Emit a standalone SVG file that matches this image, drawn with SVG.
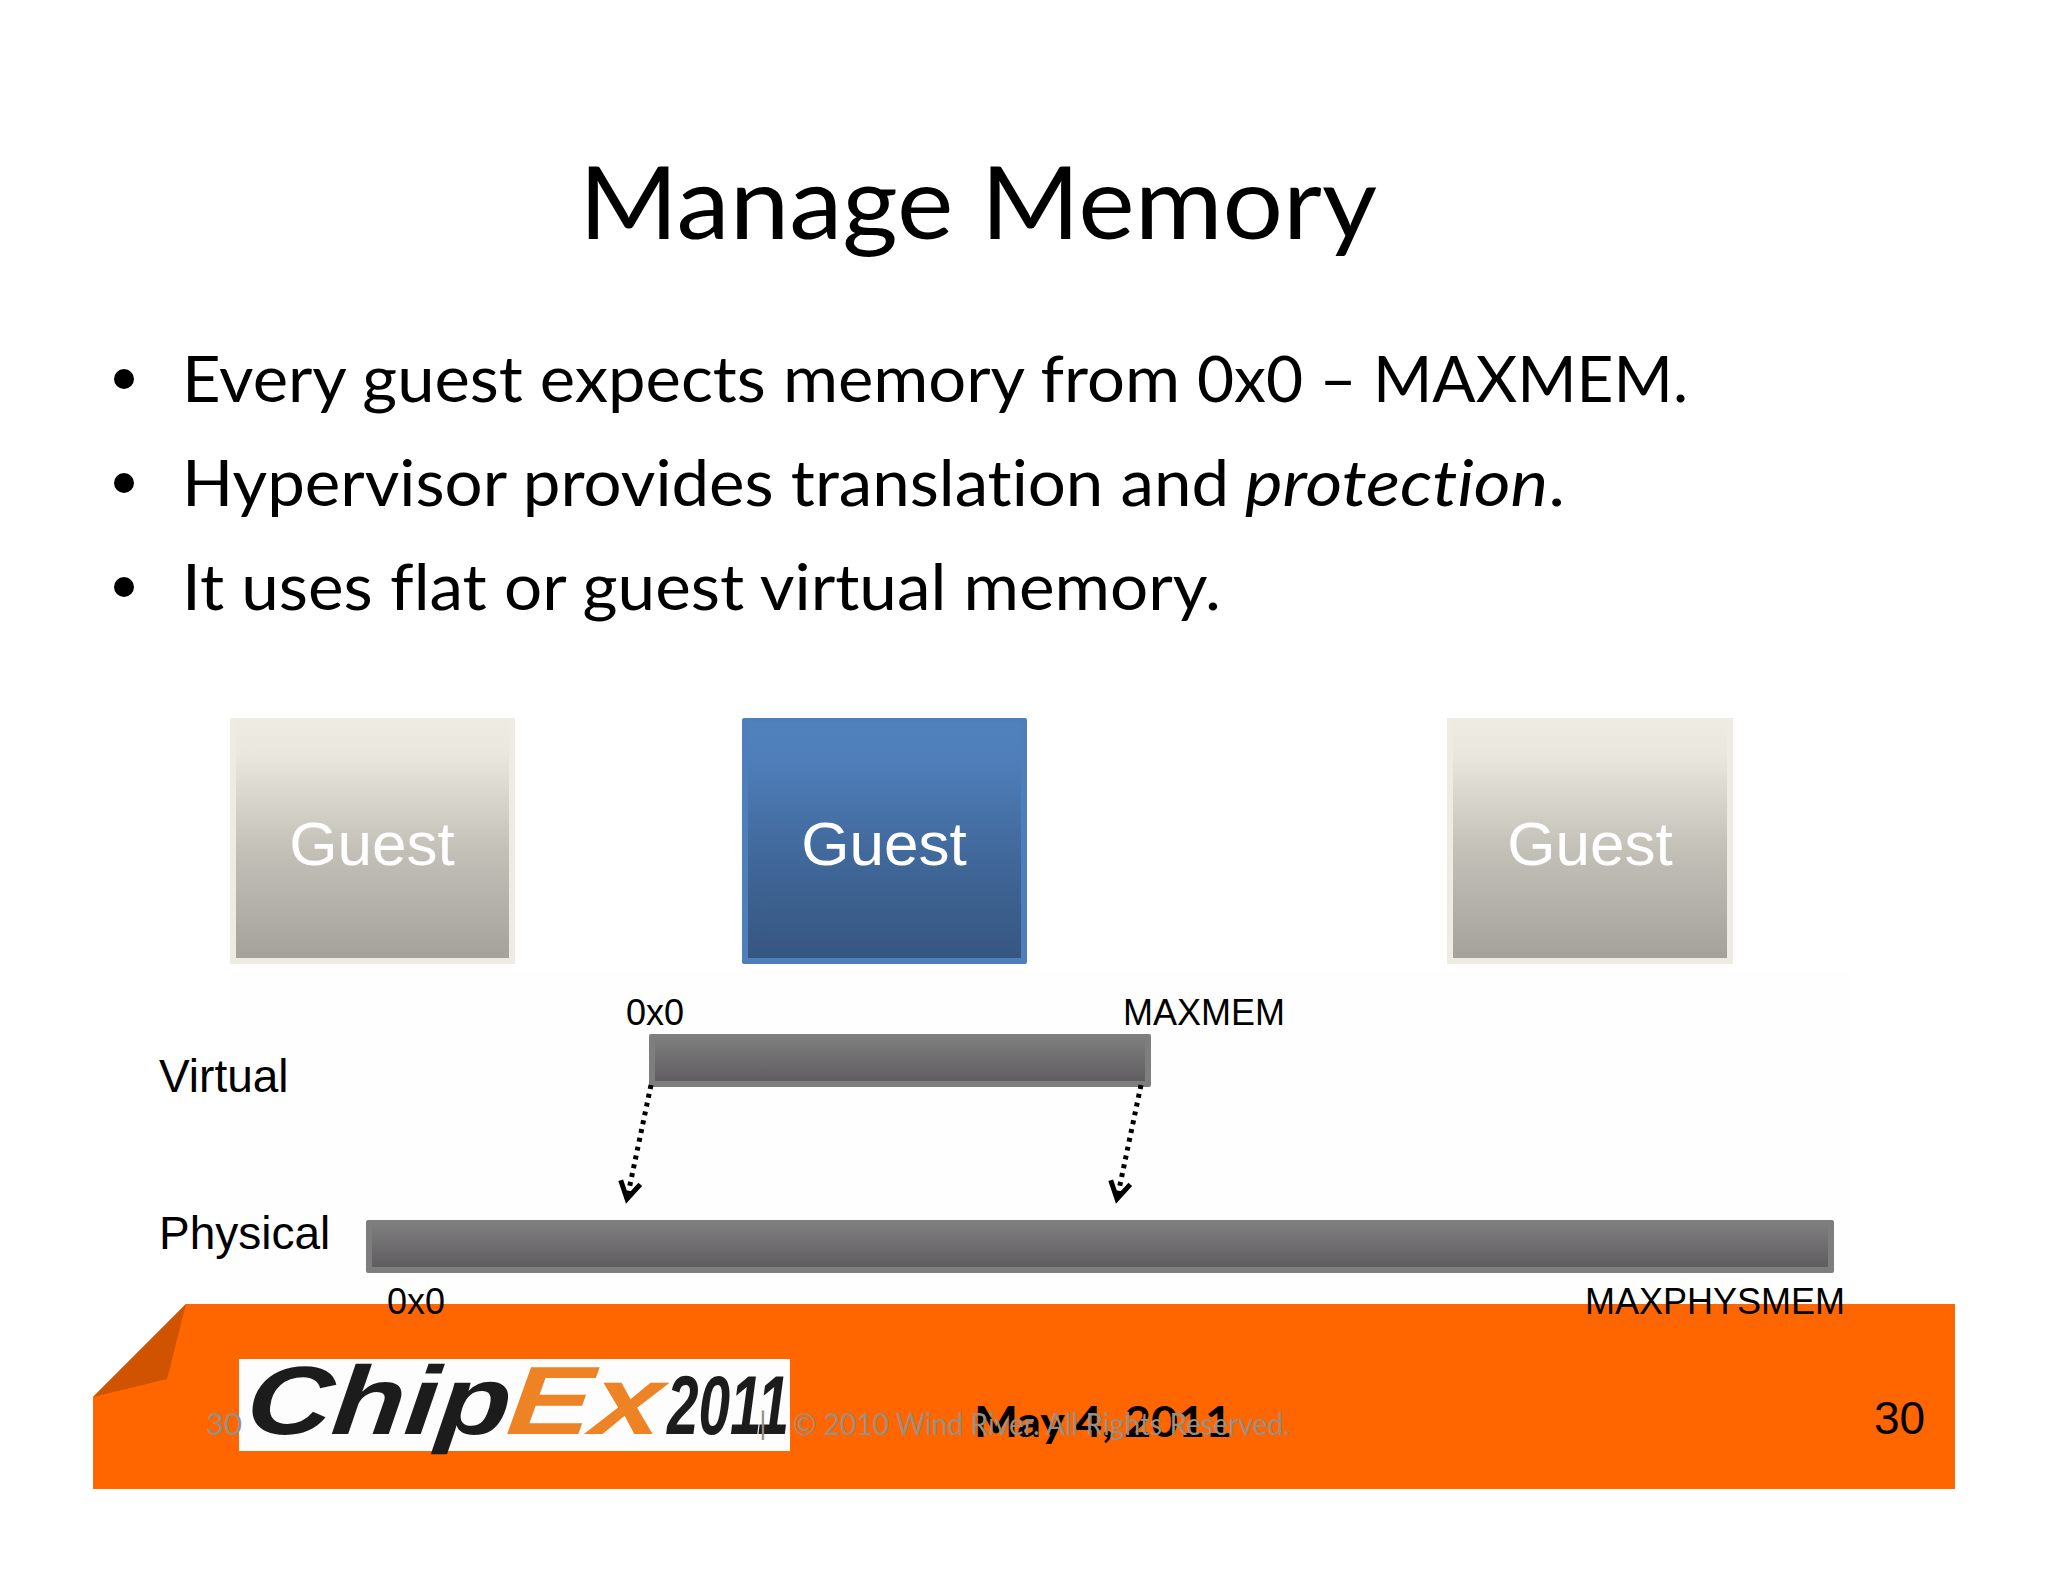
<svg xmlns="http://www.w3.org/2000/svg" width="2048" height="1582" viewBox="0 0 2048 1582">
<style>
.cal{font-family:Lato,"Noto Sans",sans-serif;font-variant-ligatures:none}
.ar{font-family:"Liberation Sans",Arial,sans-serif}
.blk{fill:#000}
.bul{font-size:64px;fill:#000}
.lab{font-size:46px;fill:#000}
.sm{font-size:36px;fill:#000}
.guest{font-size:62px;fill:#fff;text-anchor:middle}
.gray{font-size:31px;fill:#958f85}
.conn{stroke:#000;stroke-width:5;stroke-dasharray:4 5;fill:none;marker-end:url(#arr)}
</style>
<defs>
<linearGradient id="gT" x1="0" y1="0" x2="0" y2="1"><stop offset="0" stop-color="#eeebe2"/><stop offset=".15" stop-color="#eae7de"/><stop offset=".55" stop-color="#c3c0b8"/><stop offset="1" stop-color="#a5a29b"/></linearGradient>
<linearGradient id="gB" x1="0" y1="0" x2="0" y2="1"><stop offset="0" stop-color="#4f81bd"/><stop offset=".15" stop-color="#4f7fbb"/><stop offset=".55" stop-color="#41699c"/><stop offset="1" stop-color="#365680"/></linearGradient>
<linearGradient id="gG" x1="0" y1="0" x2="0" y2="1"><stop offset="0" stop-color="#7f7e7f"/><stop offset="1" stop-color="#5f5d5f"/></linearGradient>
<marker id="arr" markerUnits="userSpaceOnUse" markerWidth="28" markerHeight="28" refX="20" refY="12" orient="auto"><path d="M3 2 L20 12 L3 22" fill="none" stroke="#000" stroke-width="5"/></marker>
</defs>
<rect width="2048" height="1582" fill="#fff"/>
<rect x="230" y="970" width="1620" height="334" fill="#fefefe"/>

<g id="title"><text class="cal blk" x="579" y="239" font-size="100" textLength="798" lengthAdjust="spacingAndGlyphs">Manage Memory</text></g>
<g id="bullets">
<circle cx="124" cy="379" r="10"/><circle cx="124" cy="483" r="10"/><circle cx="124" cy="587" r="10"/>
<text class="cal bul" x="182" y="402" textLength="998" lengthAdjust="spacingAndGlyphs">Every guest expects memory from</text>
<text class="cal bul" x="1197" y="402" textLength="491" lengthAdjust="spacingAndGlyphs">0x0 – MAXMEM.</text>
<text class="cal bul" x="182" y="506" textLength="1047" lengthAdjust="spacingAndGlyphs">Hypervisor provides translation and</text>
<text class="cal bul" x="1245" y="506" textLength="320" lengthAdjust="spacingAndGlyphs"><tspan font-style="italic">protection</tspan>.</text>
<text class="cal bul" x="182" y="610" textLength="1039" lengthAdjust="spacingAndGlyphs">It uses flat or guest virtual memory.</text>
</g>

<g id="guest1"><rect x="230" y="718" width="285" height="246" fill="#eeebe2"/><rect x="236" y="718" width="273" height="240" fill="url(#gT)"/><text class="ar guest" x="372" y="865">Guest</text></g>
<g id="guest2"><rect x="742" y="718" width="285" height="246" rx="2" fill="#4f7fbb"/><rect x="748" y="722" width="273" height="236" fill="url(#gB)"/><text class="ar guest" x="884" y="865">Guest</text></g>
<g id="guest3"><rect x="1447" y="718" width="286" height="246" fill="#eeebe2"/><rect x="1453" y="718" width="274" height="240" fill="url(#gT)"/><text class="ar guest" x="1590" y="865">Guest</text></g>

<g id="virtual-label"><text class="ar lab" x="159" y="1092">Virtual</text></g>
<g id="physical-label"><text class="ar lab" x="159" y="1249">Physical</text></g>

<g id="virtual-bar"><rect x="649" y="1034" width="502" height="53" rx="2" fill="#7f7e7f"/><rect x="655" y="1038" width="490" height="43" fill="url(#gG)"/>
<text class="ar sm" x="626" y="1025">0x0</text><text class="ar sm" x="1123" y="1025">MAXMEM</text></g>

<g id="footer">
<path d="M93 1397 L186 1304 H1955 V1489 H93 Z" fill="#ff6600"/>
<path d="M93 1397 L186 1304 L167 1379 Z" fill="#cf5300"/>
</g>
<g id="physical-bar"><rect x="366" y="1220" width="1468" height="53" rx="2" fill="#7f7e7f"/><rect x="372" y="1224" width="1456" height="43" fill="url(#gG)"/>
<text class="ar sm" x="387" y="1314">0x0</text><text class="ar sm" x="1585" y="1314">MAXPHYSMEM</text></g>

<g id="connectors">
<path class="conn" d="M651 1085 L627 1199"/>
<path class="conn" d="M1141 1085 L1117 1199"/>
</g>

<g id="logo">
<rect x="239" y="1359" width="551" height="92" fill="#fdfdfd"/>
<text class="ar" transform="translate(150.7 0) skewX(-6)" x="244" y="1434" font-size="97" font-weight="700" font-style="italic" fill="#1c1c1c" textLength="264" lengthAdjust="spacingAndGlyphs">Chip</text>
<text class="ar" transform="translate(150.7 0) skewX(-6)" x="505" y="1434" font-size="97" font-weight="700" font-style="italic" fill="#ee8326" textLength="155" lengthAdjust="spacingAndGlyphs">Ex</text>
<text class="ar" x="667" y="1434" font-size="84" font-weight="700" font-style="italic" fill="#1c1c1c" textLength="122" lengthAdjust="spacingAndGlyphs">2011</text>
</g>
<g id="footer-text">
<text class="cal" x="974" y="1437" font-size="42" font-weight="700" fill="#000" textLength="258" lengthAdjust="spacingAndGlyphs">May 4, 2011</text>
<text class="cal gray" x="206" y="1435">30</text>
<text class="cal gray" x="759" y="1435">|</text>
<text class="cal gray" x="793" y="1435" textLength="497" lengthAdjust="spacingAndGlyphs">© 2010 Wind River. All Rights Reserved.</text>
<text class="ar" x="1874" y="1434" font-size="46" fill="#000">30</text>
</g>
</svg>
